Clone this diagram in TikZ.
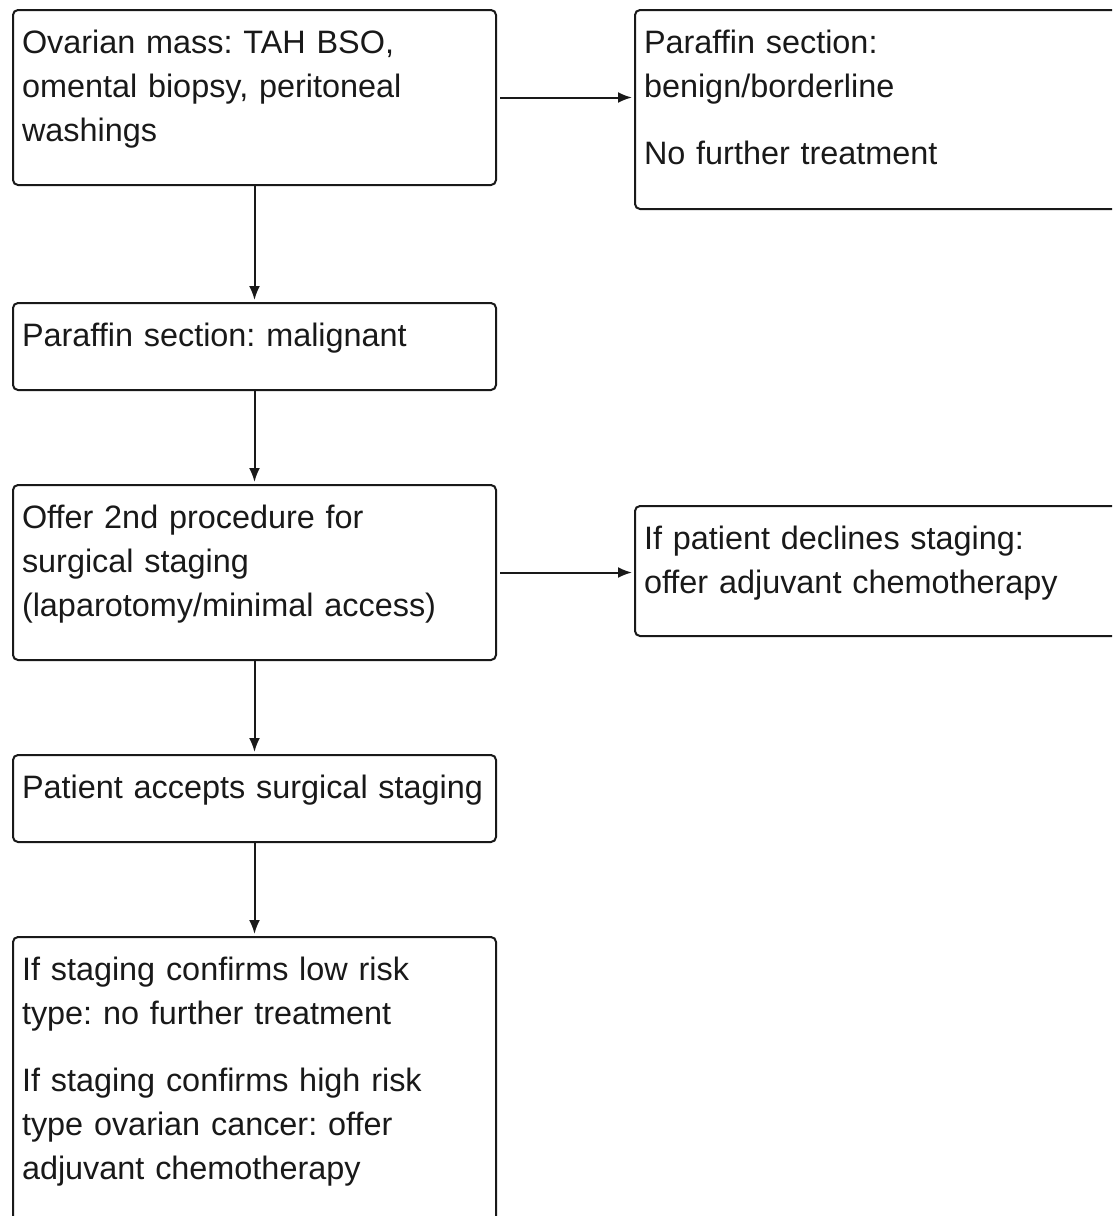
\documentclass[tikz,border=0pt]{standalone}
\usepackage{fontspec}
\setmainfont{Liberation Sans}
\usetikzlibrary{arrows.meta}
\frenchspacing
\begin{document}
\begin{tikzpicture}[x=1pt,y=-1pt,
  box/.style={draw=black!90, line width=2pt, rounded corners=5pt, anchor=north west,
    inner xsep=9pt, inner ysep=0pt, align=left, text=black!90,
    font=\fontsize{32.4}{44}\selectfont, text height=43pt},
  lbox/.style={box, text width=465pt},
  rbox/.style={box, text width=480pt},
  arr/.style={draw=black!90, line width=2pt, -{Latex[length=14pt,width=11pt]}, shorten >=2pt}
]
\useasboundingbox (0,0) rectangle (1112,1216);
\clip (0,0) rectangle (1112,1216);
\node[lbox, text depth=132pt] (b1) at (12,9) {Ovarian mass: TAH BSO,\\omental biopsy, peritoneal\\washings};
\node[lbox, text depth=44pt] (b2) at (12,302) {Paraffin section: malignant};
\node[lbox, text depth=132pt] (b3) at (12,484) {Offer 2nd procedure for\\surgical staging\\(laparotomy/minimal access)};
\node[lbox, text depth=44pt] (b4) at (12,754) {Patient accepts surgical staging};
\node[lbox, text depth=257pt] (b5) at (12,936) {If staging confirms low risk\\type: no further treatment\\[23pt]If staging confirms high risk\\type ovarian cancer: offer\\adjuvant chemotherapy};
\node[rbox, text depth=156pt] (r1) at (634,9) {Paraffin section:\\benign/borderline\\[23pt]No further treatment};
\node[rbox, text depth=87pt] (r2) at (634,505) {If patient declines staging:\\offer adjuvant chemotherapy};
\draw[arr] (b1) -- (b2);
\draw[arr] (b2) -- (b3);
\draw[arr] (b3) -- (b4);
\draw[arr] (b4) -- (b5);
\draw[arr, shorten <=3pt] (b1.east) -- (b1.east -| r1.west);
\draw[arr, shorten <=3pt] (b3.east) -- (b3.east -| r2.west);
\end{tikzpicture}
\end{document}
